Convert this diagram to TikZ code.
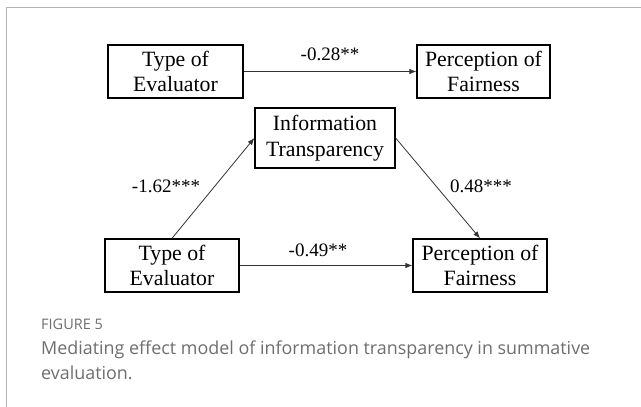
\documentclass[tikz,border=0pt]{standalone}
\usepackage{fontspec}
\setmainfont{Liberation Serif}
\newfontfamily\capfont{Open Sans}
\usetikzlibrary{arrows.meta}
\definecolor{framegray}{HTML}{B4B4B4}
\definecolor{captiongray}{HTML}{6E6E6E}
\tikzset{
  varbox/.style={draw=black, line width=1.3pt, align=center, inner sep=0pt,
    font=\fontsize{21.8}{25.5}\selectfont},
  path/.style={draw=black!80, line width=0.8pt, -{Latex[length=7pt,width=5.5pt]}},
  coef/.style={anchor=base, inner sep=0pt, font=\fontsize{19}{21}\selectfont},
  captext/.style={anchor=base west, inner sep=0pt, text=captiongray}
}
\begin{document}
\begin{tikzpicture}[x=1pt, y=-1pt]
  \useasboundingbox (0,0) rectangle (641,407);
  % open frame: top and left rules
  \draw[framegray, line width=1.5pt] (641,7.5) -- (6.5,7.5) -- (6.5,407);

  % total effect
  \node[varbox, minimum width=135pt, minimum height=53pt] (te) at (175.5,71.5) {Type of\\Evaluator};
  \node[varbox, minimum width=133pt, minimum height=53pt] (tp) at (483.5,71.5) {Perception of\\Fairness};
  \draw[path] (te) -- (tp);
  \node[coef] (c1) at (330,60) {-0.28**};

  % mediation model
  \node[varbox, minimum width=140pt, minimum height=60pt] (it) at (325,138) {Information\\Transparency};
  \node[varbox, minimum width=134pt, minimum height=53pt] (be) at (172,265.5) {Type of\\Evaluator};
  \node[varbox, minimum width=134pt, minimum height=53pt] (bp) at (480,265.5) {Perception of\\Fairness};
  \draw[path] (be.north) -- (it.west);
  \draw[path] (it.east) -- (bp.north);
  \draw[path] (be) -- (bp);
  \node[coef] (c2) at (166,192) {-1.62***};
  \node[coef] (c3) at (481,192) {0.48***};
  \node[coef] (c4) at (318,256) {-0.49**};

  % caption
  \node[captext, font=\capfont\fontsize{14.5}{16}\selectfont] (fig) at (41,329) {FIGURE 5};
  \node[captext, font=\capfont\fontsize{17.9}{25}\selectfont] (cap1) at (41,354) {Mediating effect model of information transparency in summative};
  \node[captext, font=\capfont\fontsize{17.9}{25}\selectfont] (cap2) at (41,379) {evaluation.};
\end{tikzpicture}
\end{document}
